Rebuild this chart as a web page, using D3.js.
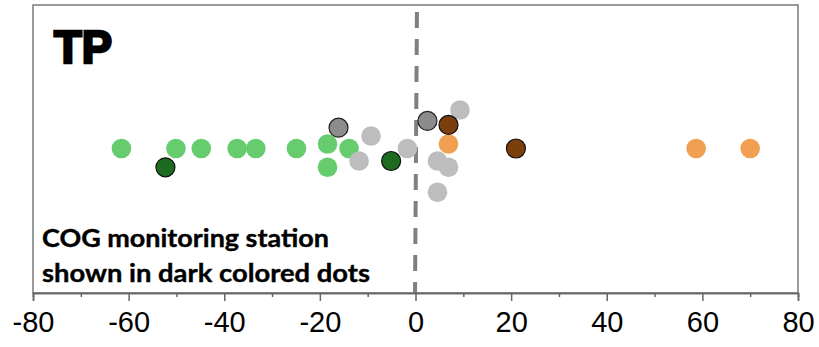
<!DOCTYPE html>
<html><head><meta charset="utf-8">
<script src="https://cdn.jsdelivr.net/npm/d3@7"></script>
<style>body{margin:0;background:#fff}svg{display:block}</style>
</head><body>
<script>
// Data: percent change per station (x) and vertical jitter (y, arbitrary units)
const decreaseX = [-61.5, -50.1, -44.8, -37.3, -33.4, -24.9, -18.4, -18.4, -13.9];
const decreaseY = [0, 0, 0, 0, 0, 0, 0.31, -1.31, 0];
const noChangeX = [-9.3, -11.8, -1.7, 9.3, 4.6, 6.9, 4.6];
const noChangeY = [0.87, -0.87, 0, 2.68, -0.87, -1.31, -3.05];
const increaseX = [6.9, 58.7, 70.0];
const increaseY = [0.31, 0, 0];
const decreaseCogX = [-52.3, -5.1];
const decreaseCogY = [-1.31, -0.87];
const noChangeCogX = [-16.1, 2.5];
const noChangeCogY = [1.45, 1.92];
const increaseCogX = [6.9, 21.0];
const increaseCogY = [1.64, 0];
const majorTicks = [-80, -60, -40, -20, 0, 20, 40, 60, 80];
const minorTicks = [-70, -50, -30, -10, 10, 30, 50, 70];
const title = "TP";
const noteLines = ["COG monitoring station", "shown in dark colored dots"];

const W = 819, H = 347;
const L = 33, R = 798, T = 5, B = 293;
const svg = d3.select("body").append("svg").attr("width", W).attr("height", H);

const x = d3.scaleLinear().domain([-80, 80]).range([L, R]);
const y = d3.scaleLinear().domain([-10, 10]).range([292, 5]);

// frame
svg.append("rect").attr("x", L).attr("y", T).attr("width", R - L).attr("height", B - T)
  .attr("fill", "none").attr("stroke", "#7a7a7a").attr("stroke-width", 1.5);

// zero dashed line
svg.append("line").attr("x1", x(0.3)).attr("x2", x(-0.1)).attr("y1", 12).attr("y2", B)
  .attr("stroke", "#808080").attr("stroke-width", 4).attr("stroke-dasharray", "16,11");

// axes
const gMinor = svg.append("g").attr("transform", `translate(0,${B})`)
  .call(d3.axisBottom(x).tickValues(minorTicks).tickSize(4).tickFormat(""));
const gMajor = svg.append("g").attr("transform", `translate(0,${B})`)
  .call(d3.axisBottom(x).tickValues(majorTicks).tickSize(8).tickPadding(10).tickFormat(d3.format("d")));
[gMinor, gMajor].forEach(g => {
  g.select(".domain").attr("stroke", "#666").attr("stroke-width", 1.5);
  g.selectAll(".tick line").attr("stroke", "#666").attr("stroke-width", 1.5);
});
gMajor.selectAll(".tick text").attr("font-family", "Liberation Sans, Arial, sans-serif")
  .attr("font-size", 29).attr("fill", "#000")
  .text(d => d < 0 ? "-" + Math.abs(d) : d);

function dots(xs, ys, fill, stroke) {
  svg.append("g").selectAll("circle").data(xs.map((v, i) => [v, ys[i]])).join("circle")
    .attr("cx", d => x(d[0])).attr("cy", d => y(d[1])).attr("r", stroke ? 9.5 : 9.8)
    .attr("fill", fill)
    .attr("stroke", stroke || "none").attr("stroke-width", stroke ? 1.2 : 0);
}
dots(decreaseX, decreaseY, "#66cc6e");
dots(noChangeX, noChangeY, "#bdbdbd");
dots(increaseX, increaseY, "#f0a050");
dots(decreaseCogX, decreaseCogY, "#1c6b21", "#111");
dots(noChangeCogX, noChangeCogY, "#8c8c8c", "#222");
dots(increaseCogX, increaseCogY, "#7c3f0b", "#111");

// title
svg.append("text").attr("x", 54).attr("y", 62.5).text(title)
  .attr("font-family", "Liberation Sans, Arial, sans-serif").attr("font-weight", "bold")
  .attr("font-size", 46).attr("fill", "#000")
  .attr("stroke", "#000").attr("stroke-width", 2.6).attr("stroke-linejoin", "miter")
  .attr("textLength", 58).attr("lengthAdjust", "spacingAndGlyphs");

// note
const noteW = [287, 328];
noteLines.forEach((t, i) => {
  svg.append("text").attr("x", 42).attr("y", 246.5 + i * 35).text(t)
    .attr("font-family", "Lato, 'Open Sans', sans-serif").attr("font-weight", "bold")
    .attr("font-size", 25.5).attr("fill", "#000")
    .attr("stroke", "#000").attr("stroke-width", 0.4)
    .attr("textLength", noteW[i]).attr("lengthAdjust", "spacingAndGlyphs");
});
</script>
</body></html>
